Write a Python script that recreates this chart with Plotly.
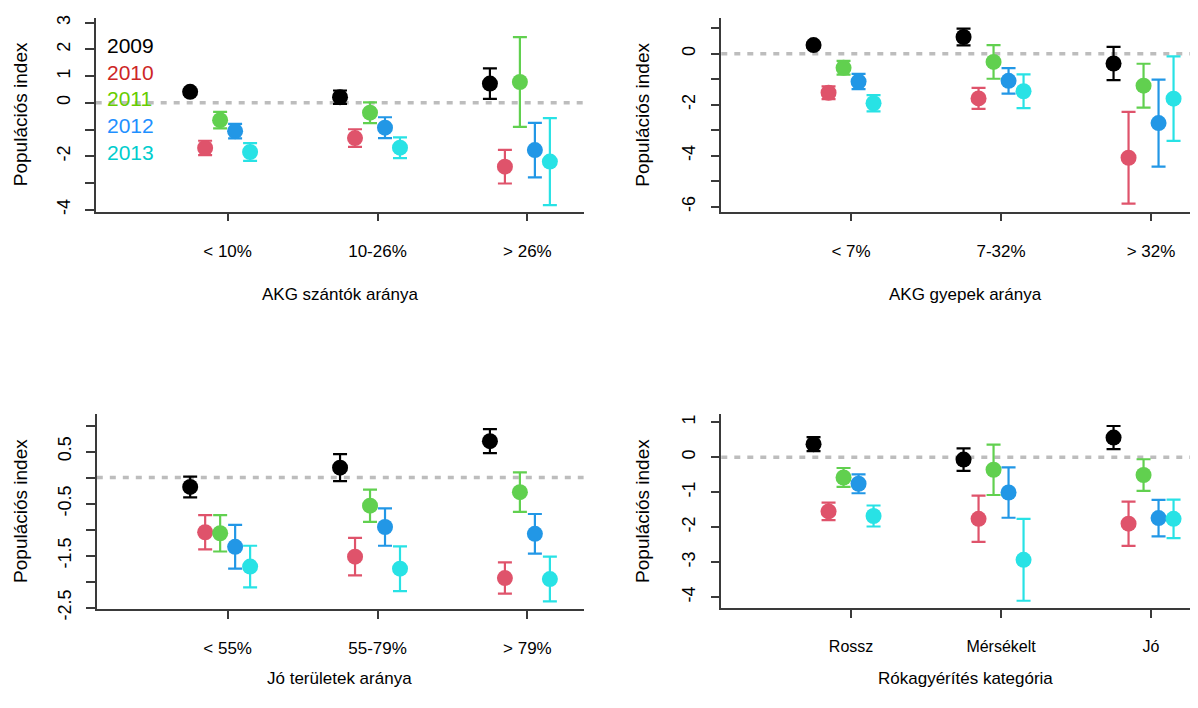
import plotly.graph_objects as go

# ---------------- data ----------------
years = ["2009", "2010", "2011", "2012", "2013"]
year_offsets = [-0.25, -0.15, -0.05, 0.05, 0.15]
dot_colors = ["#000000", "#DF536B", "#61D04F", "#2297E6", "#28E2E5"]
legend_colors = ["#000000", "#CD2626", "#66CD00", "#1E90FF", "#00CDCD"]

# Panel 1: AKG szántók aránya
p1_cats = ["< 10%", "10-26%", "> 26%"]
p1_mean = {
    "2009": [0.41, 0.21, 0.72],
    "2010": [-1.69, -1.32, -2.39],
    "2011": [-0.65, -0.37, 0.78],
    "2012": [-1.06, -0.93, -1.77],
    "2013": [-1.84, -1.68, -2.20],
}
p1_err = {
    "2009": [0.10, 0.25, 0.57],
    "2010": [0.27, 0.33, 0.63],
    "2011": [0.31, 0.39, 1.68],
    "2012": [0.27, 0.39, 1.02],
    "2013": [0.33, 0.39, 1.63],
}

# Panel 2: AKG gyepek aránya
p2_cats = ["< 7%", "7-32%", "> 32%"]
p2_mean = {
    "2009": [0.34, 0.66, -0.38],
    "2010": [-1.53, -1.75, -4.08],
    "2011": [-0.55, -0.32, -1.25],
    "2012": [-1.09, -1.06, -2.72],
    "2013": [-1.94, -1.47, -1.76],
}
p2_err = {
    "2009": [0.10, 0.33, 0.65],
    "2010": [0.25, 0.41, 1.80],
    "2011": [0.27, 0.66, 0.86],
    "2012": [0.30, 0.50, 1.71],
    "2013": [0.32, 0.66, 1.66],
}

# Panel 3: Jó területek aránya
p3_cats = ["< 55%", "55-79%", "> 79%"]
p3_mean = {
    "2009": [-0.18, 0.19, 0.70],
    "2010": [-1.05, -1.52, -1.93],
    "2011": [-1.07, -0.54, -0.28],
    "2012": [-1.33, -0.95, -1.08],
    "2013": [-1.71, -1.75, -1.95],
}
p3_err = {
    "2009": [0.20, 0.26, 0.23],
    "2010": [0.33, 0.36, 0.30],
    "2011": [0.35, 0.31, 0.38],
    "2012": [0.42, 0.36, 0.38],
    "2013": [0.40, 0.43, 0.43],
}

# Panel 4: Rókagyérítés kategória
p4_cats = ["Rossz", "Mérsékelt", "Jó"]
p4_mean = {
    "2009": [0.37, -0.07, 0.56],
    "2010": [-1.55, -1.76, -1.90],
    "2011": [-0.58, -0.36, -0.51],
    "2012": [-0.76, -1.01, -1.74],
    "2013": [-1.68, -2.93, -1.76],
}
p4_err = {
    "2009": [0.20, 0.32, 0.33],
    "2010": [0.25, 0.66, 0.63],
    "2011": [0.27, 0.72, 0.45],
    "2012": [0.27, 0.72, 0.52],
    "2013": [0.30, 1.17, 0.55],
}

x_titles = ["AKG szántók aránya", "AKG gyepek aránya",
            "Jó területek aránya", "Rókagyérítés kategória"]
y_title = "Populációs index"

p1_yticks = [3, 2, 1, 0, -1, -2, -3, -4]
p1_ylabels = ["3", "2", "1", "0", "", "-2", "", "-4"]
p2_yticks = [1, 0, -1, -2, -3, -4, -5, -6]
p2_ylabels = ["", "0", "", "-2", "", "-4", "", "-6"]
p3_yticks = [1.0, 0.5, 0.0, -0.5, -1.0, -1.5, -2.0, -2.5]
p3_ylabels = ["", "0.5", "", "-0.5", "", "-1.5", "", "-2.5"]
p4_yticks = [1, 0, -1, -2, -3, -4]
p4_ylabels = ["1", "0", "-1", "-2", "-3", "-4"]

legend_y = [2.15, 1.15, 0.15, -0.85, -1.85]

# ---------------- layout geometry ----------------
# page body has an 8px margin; keep the whole page inside 1198x708
OFF = 8
W, H = 1190, 692
FONT = "Liberation Sans, Arial, Helvetica, sans-serif"


def fx(px):
    return (px - OFF) / W


def fy(py):
    return 1 - (py - OFF) / H


panels = [
    dict(cats=p1_cats, mean=p1_mean, err=p1_err, xdom=[fx(95.7), fx(583.6)],
         ydom=[fy(213), fy(15)], xr=[0.12, 3.375], yr=[-4.07, 3.18],
         yt=p1_yticks, yl=p1_ylabels, tfs=17),
    dict(cats=p2_cats, mean=p2_mean, err=p2_err, xdom=[fx(721.3), 1.0],
         ydom=[fy(213), fy(15)], xr=[0.135, 3.313], yr=[-6.19, 1.41],
         yt=p2_yticks, yl=p2_ylabels, tfs=17),
    dict(cats=p3_cats, mean=p3_mean, err=p3_err, xdom=[fx(96.8), fx(583.6)],
         ydom=[fy(619), fy(420)], xr=[0.127, 3.375], yr=[-2.52, 1.22],
         yt=p3_yticks, yl=p3_ylabels, tfs=17),
    dict(cats=p4_cats, mean=p4_mean, err=p4_err, xdom=[fx(721.3), 1.0],
         ydom=[fy(618), fy(420)], xr=[0.135, 3.313], yr=[-4.30, 1.23],
         yt=p4_yticks, yl=p4_ylabels, tfs=16),
]

fig = go.Figure()
layout = dict(
    width=W, height=H,
    margin=dict(l=0, r=0, t=0, b=0),
    paper_bgcolor="white", plot_bgcolor="white",
    showlegend=False,
    font=dict(family=FONT, color="black", size=17),
)
shapes = []
annotations = []
AXC = "#3a3a3a"
panel_w = 583.6 - 95.7

for i, p in enumerate(panels):
    n = "" if i == 0 else str(i + 1)
    xa, ya = "x" + n, "y" + n
    cat_pos = [1, 2, 3]
    for k, yr in enumerate(years):
        fig.add_trace(go.Scatter(
            x=[c + year_offsets[k] for c in cat_pos],
            y=p["mean"][yr],
            mode="markers",
            marker=dict(size=16, color=dot_colors[k], line=dict(width=0)),
            error_y=dict(type="data", array=p["err"][yr], visible=True,
                         color=dot_colors[k], thickness=2.2, width=7),
            xaxis=xa, yaxis=ya, name=yr, cliponaxis=False,
        ))
    layout["xaxis" + n] = dict(
        domain=p["xdom"], range=p["xr"], anchor=ya,
        tickmode="array", tickvals=cat_pos, ticktext=p["cats"],
        ticks="outside", ticklen=8, tickwidth=1.5, tickcolor=AXC,
        showline=True, linecolor=AXC, linewidth=1.5,
        showgrid=False, zeroline=False, fixedrange=True,
        tickfont=dict(family=FONT, size=p["tfs"], color="black"),
        ticklabelstandoff=15,
    )
    layout["yaxis" + n] = dict(
        domain=p["ydom"], range=p["yr"], anchor=xa,
        tickmode="array", tickvals=p["yt"], ticktext=p["yl"],
        ticks="outside", ticklen=9, tickwidth=1.5, tickcolor=AXC,
        showline=True, linecolor=AXC, linewidth=1.5,
        showgrid=False, zeroline=False, fixedrange=True,
        tickangle=-90,
        tickfont=dict(family=FONT, size=18, color="black"),
        ticklabelstandoff=8,
    )
    # zero reference line
    shapes.append(dict(
        type="line", xref=xa + " domain", yref=ya, x0=0, x1=1, y0=0, y1=0,
        line=dict(color="#BDBDBD", width=3.5, dash="6px,7px"), layer="below",
    ))
    # axis titles
    left_px = 95.7 if i in (0, 2) else 721.3
    xc = fx(left_px + panel_w / 2)
    if i < 2:
        annotations.append(dict(
            text=x_titles[i], xref="paper", yref="paper", x=xc, y=fy(298),
            xanchor="center", yanchor="middle", showarrow=False,
            font=dict(family=FONT, size=17, color="black"),
        ))
    else:
        annotations.append(dict(
            text=x_titles[i], xref="paper", yref="paper", x=xc, y=0,
            xanchor="center", yanchor="bottom", yshift=-2, showarrow=False,
            font=dict(family=FONT, size=17, color="black"),
        ))
    yx = fx(20.5) if i in (0, 2) else fx(643)
    annotations.append(dict(
        text=y_title, xref="paper", yref="paper", x=yx,
        y=(p["ydom"][0] + p["ydom"][1]) / 2, textangle=-90,
        xanchor="center", yanchor="middle", showarrow=False,
        font=dict(family=FONT, size=19, color="black"),
    ))

# year legend drawn as text inside panel 1
for k, yr in enumerate(years):
    annotations.append(dict(
        text=yr, xref="x", yref="y", x=0.182, y=legend_y[k],
        xanchor="left", yanchor="middle", showarrow=False,
        font=dict(family=FONT, size=21, color=legend_colors[k]),
    ))

layout["shapes"] = shapes
layout["annotations"] = annotations
fig.update_layout(**layout)
fig.write_html("out.html")
